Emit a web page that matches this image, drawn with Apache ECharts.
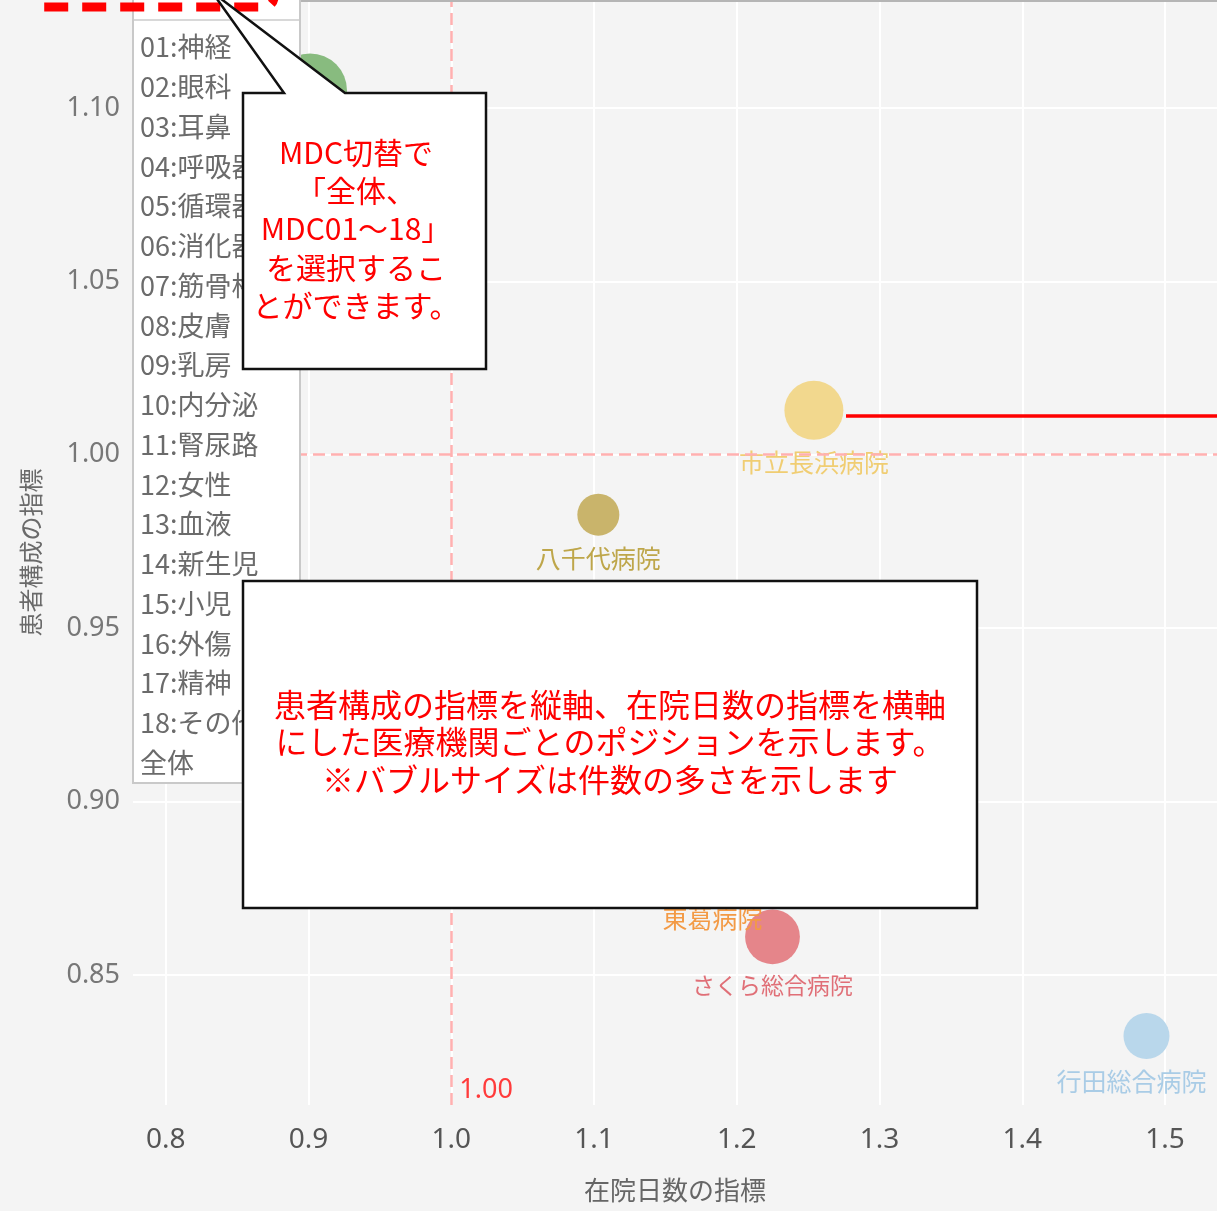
<!DOCTYPE html>
<html><head><meta charset="utf-8">
<script src="https://cdn.jsdelivr.net/npm/echarts@6/dist/echarts.min.js"></script>
<style>html,body{margin:0;padding:0;background:#f4f4f4;overflow:hidden;} #c{width:1217px;height:1211px;}</style>
</head><body><div id="c"></div>
<script>
// ---- data ----
const hospitals = ['', '市立長浜病院', '八千代病院', '東葛病院', 'さくら総合病院', '行田総合病院'];
const losIndex = [0.901, 1.254, 1.103, 1.183, 1.225, 1.487];        // 在院日数の指標 (x)
const caseMixIndex = [1.105, 1.0128, 0.9827, 0.880, 0.861, 0.8324];  // 患者構成の指標 (y)
const caseCounts = [1369, 870, 441, 625, 751, 529];                  // 件数 (bubble size)
const bubbleColors = ['#88bb7f', '#f2d88e', '#c9b46b', '#f6a85e', '#e5858a', '#b9d7eb'];
const labelColors = ['#6fa863', '#f0cd72', '#bea64a', '#f39a45', '#e06f77', '#a9cce6'];
const xTicks = [0.8, 0.9, 1.0, 1.1, 1.2, 1.3, 1.4, 1.5];
const yTicks = [0.85, 0.90, 0.95, 1.00, 1.05, 1.10];
const referenceX = 1.0;
const referenceY = 1.0;
const referenceLabel = '1.00';
const mdcList = ['01:神経', '02:眼科', '03:耳鼻', '04:呼吸器', '05:循環器', '06:消化器', '07:筋骨格',
  '08:皮膚', '09:乳房', '10:内分泌', '11:腎尿路', '12:女性', '13:血液', '14:新生児', '15:小児',
  '16:外傷', '17:精神', '18:その他', '全体'];
const note1 = ['MDC切替で', '「全体、', 'MDC01～18」', 'を選択するこ', 'とができます。'];
const note2 = ['患者構成の指標を縦軸、在院日数の指標を横軸', 'にした医療機関ごとのポジションを示します。', '※バブルサイズは件数の多さを示します'];

const xMin = 0.777, xMax = 1.5364, yMin = 0.8125, yMax = 1.1311;
const JP = '"Noto Sans CJK JP", "Noto Sans", sans-serif';

const chart = echarts.init(document.getElementById('c'));

const points = hospitals.map((h, i) => ({
  name: h,
  value: [losIndex[i], caseMixIndex[i], caseCounts[i]],
  itemStyle: { color: bubbleColors[i], opacity: 1 },
  label: { color: labelColors[i], offset: i === 5 ? [-15, 0] : [0, 0], fontSize: i === 4 ? 23 : 25 }
}));

// legend (MDC filter list) graphic
const legendEls = [
  { type: 'rect', shape: { x: 133, y: -10, width: 167, height: 793 }, style: { fill: '#fff', stroke: '#c9c9c9', lineWidth: 2 }, z: 50 },
  { type: 'line', shape: { x1: 134, y1: 20, x2: 299, y2: 20 }, style: { stroke: '#d8d8d8', lineWidth: 2 }, z: 51 }
];
mdcList.forEach((t, i) => {
  legendEls.push({ type: 'text', x: 140, y: 47 + i * 39.75, style: { text: t, font: '27px ' + JP, fill: '#6b6b6b', verticalAlign: 'middle', align: 'left' }, z: 52 });
});

const option = {
  backgroundColor: '#f4f4f4',
  animation: false,
  grid: { left: 133, right: 0, top: 0, bottom: 106, containLabel: false },
  xAxis: {
    type: 'value', min: xMin, max: xMax,
    name: '在院日数の指標', nameLocation: 'middle', nameGap: 72,
    nameTextStyle: { fontSize: 26, color: '#666', fontFamily: JP },
    axisLine: { show: false }, axisTick: { show: false, customValues: xTicks },
    axisLabel: { customValues: xTicks, fontSize: 28, color: '#555', fontFamily: 'Noto Sans', margin: 21, formatter: v => v.toFixed(1) },
    splitLine: { show: true, lineStyle: { color: '#ffffff', width: 2 } }
  },
  yAxis: {
    type: 'value', min: yMin, max: yMax,
    name: '患者構成の指標', nameLocation: 'middle', nameGap: 90, nameRotate: 90,
    nameTextStyle: { fontSize: 24, color: '#6a6a6a', fontFamily: JP },
    axisLine: { show: false }, axisTick: { show: false, customValues: yTicks },
    axisLabel: { customValues: yTicks, fontSize: 27, color: '#777', fontFamily: 'Noto Sans', margin: 13, formatter: v => v.toFixed(2) },
    splitLine: { show: true, lineStyle: { color: '#ffffff', width: 2 } }
  },
  series: [{
    type: 'scatter',
    data: points,
    symbolSize: v => 2 * Math.sqrt(v[2]),
    label: { show: true, position: 'bottom', distance: 10, formatter: p => p.name, fontSize: 25, fontFamily: JP },
    markLine: {
      silent: true, symbol: 'none',
      lineStyle: { color: '#ffb0b0', type: [12, 6], width: 2.5 },
      label: { show: false },
      data: [{ xAxis: referenceX }, { yAxis: referenceY }]
    },
    markPoint: {
      silent: true, symbol: 'circle', symbolSize: 0,
      data: [{ coord: [referenceX, yMin], label: { show: true, position: 'right', distance: 8, offset: [0, -15], formatter: referenceLabel, color: '#ff3b3b', fontSize: 27, fontFamily: 'Noto Sans' } }]
    }
  }],
  graphic: {
    elements: [
      // top border
      { type: 'line', shape: { x1: 300, y1: 1, x2: 1217, y2: 1 }, style: { stroke: '#b5b5b5', lineWidth: 2 }, z: 40 },
      ...legendEls,
      // red dashed box (cut at top)
      { type: 'rect', shape: { x: 34, y: -60, width: 240, height: 67, r: 10 }, style: { fill: 'none', stroke: '#ff0000', lineWidth: 9, lineDash: [24, 14] }, z: 55 },
      // callout 1 with pointer
      { type: 'polygon', shape: { points: [[243, 93], [284, 93], [212, -8], [345, 93], [486, 93], [486, 369], [243, 369]] },
        style: { fill: '#ffffff', stroke: '#111', lineWidth: 2.5 }, z: 60 },
      { type: 'text', x: 356, y: 229, style: { text: note1.join('\n'), font: '30px ' + JP, fill: '#ff0000', align: 'center', verticalAlign: 'middle', lineHeight: 38.3 }, z: 61 },
      // callout 2
      { type: 'rect', shape: { x: 243, y: 581, width: 734, height: 327 }, style: { fill: '#ffffff', stroke: '#111', lineWidth: 2.5 }, z: 60 },
      { type: 'text', x: 610, y: 742, style: { text: note2.join('\n'), font: '32px ' + JP, fill: '#ff0000', align: 'center', verticalAlign: 'middle', lineHeight: 37.5 }, z: 61 },
      // red annotation line
      { type: 'line', shape: { x1: 846, y1: 416, x2: 1217, y2: 416 }, style: { stroke: '#ff0000', lineWidth: 3.5 }, z: 60 }
    ]
  }
};
chart.setOption(option);
</script>
</body></html>
